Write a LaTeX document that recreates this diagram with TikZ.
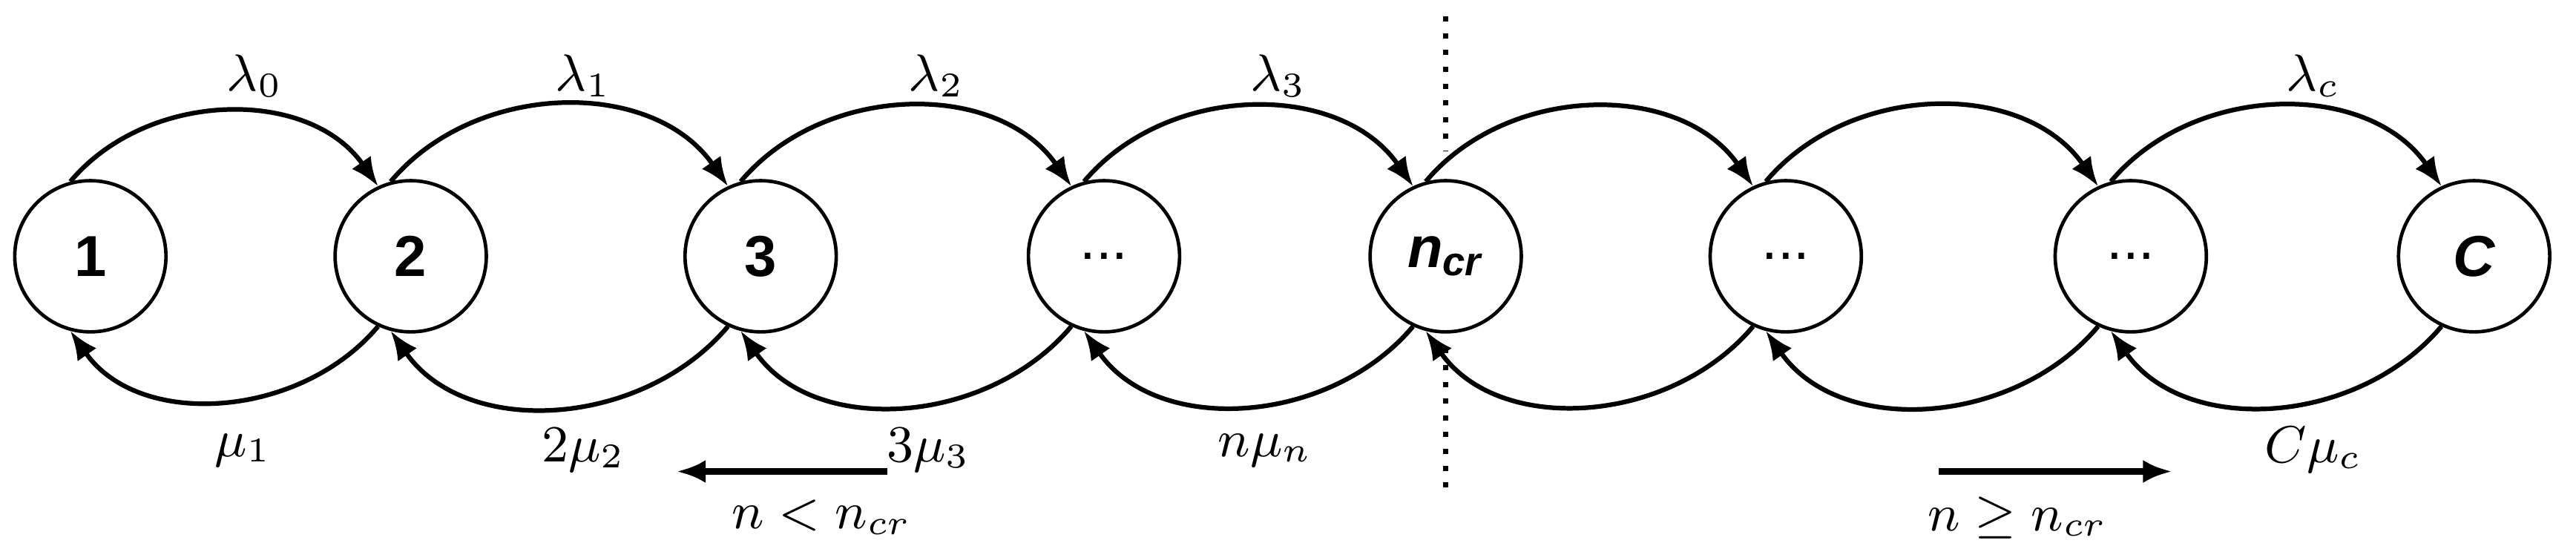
\documentclass[tikz,border=0pt]{standalone}
\usepackage{fontspec}
\newfontfamily\sans{Liberation Sans}
\usetikzlibrary{arrows.meta}
\begin{document}
\begin{tikzpicture}[x=0.01cm,y=-0.01cm,
  st/.style={circle,draw,line width=0.6pt,minimum size=0.92cm,inner sep=0pt,font=\sans\bfseries\fontsize{10}{10}\selectfont},
  tr/.style={line width=0.8pt,-{Latex[length=5pt,width=4pt]}},
  lb/.style={font=\fontsize{9}{9}\selectfont}]
\useasboundingbox (0,0) rectangle (1568,332);
\node[st] (s1) at (55,156) {1};
\node[st] (s2) at (250,156) {2};
\node[st] (s3) at (463,156) {3};
\node[st] (s4) at (672,156) {\normalfont\sans ...};
\node[st] (s5) at (880,156) {\itshape n\textsubscript{\fontsize{7}{7}\selectfont cr}};
\node[st] (s6) at (1087,156) {\normalfont\sans ...};
\node[st] (s7) at (1297,156) {\normalfont\sans ...};
\node[st] (s8) at (1506,156) {\itshape C};
\foreach \a/\b in {s1/s2,s2/s3,s3/s4,s4/s5,s5/s6,s6/s7,s7/s8}{
  \draw[tr] (\a.105) to[out=50,in=125] (\b.115);
  \draw[tr] (\b.-115) to[out=-130,in=-55] (\a.-105);
}
\node[lb] (l0) at (155,46) {$\lambda_0$};
\node[lb] (l1) at (355,46) {$\lambda_1$};
\node[lb] (l2) at (570,46) {$\lambda_2$};
\node[lb] (l3) at (778,46) {$\lambda_3$};
\node[lb] (lc) at (1408,46) {$\lambda_c$};
\node[lb] (m1) at (148,274) {$\mu_1$};
\node[lb] (m2) at (355,274) {$2\mu_2$};
\node[lb] (m3) at (565,274) {$3\mu_3$};
\node[lb] (mn) at (770,274) {$n\mu_n$};
\node[lb] (mc) at (1408,274) {$C\mu_c$};
\coordinate (d1) at (880,10); \coordinate (d2) at (880,92);
\coordinate (d3) at (880,212); \coordinate (d4) at (880,302);
\draw[line width=0.9pt,dotted] (d1) -- (d2);
\draw[line width=0.9pt,dotted] (d3) -- (d4);
\coordinate (la) at (540,287); \coordinate (lb2) at (412,287);
\coordinate (ra) at (1180,287); \coordinate (rb) at (1322,287);
\draw[tr,line width=1.1pt] (la) -- (lb2);
\draw[tr,line width=1.1pt] (ra) -- (rb);
\node[lb] (t1) at (500,315) {$n<n_{cr}$};
\node[lb] (t2) at (1228,315) {$n\geq n_{cr}$};
\end{tikzpicture}
\end{document}
